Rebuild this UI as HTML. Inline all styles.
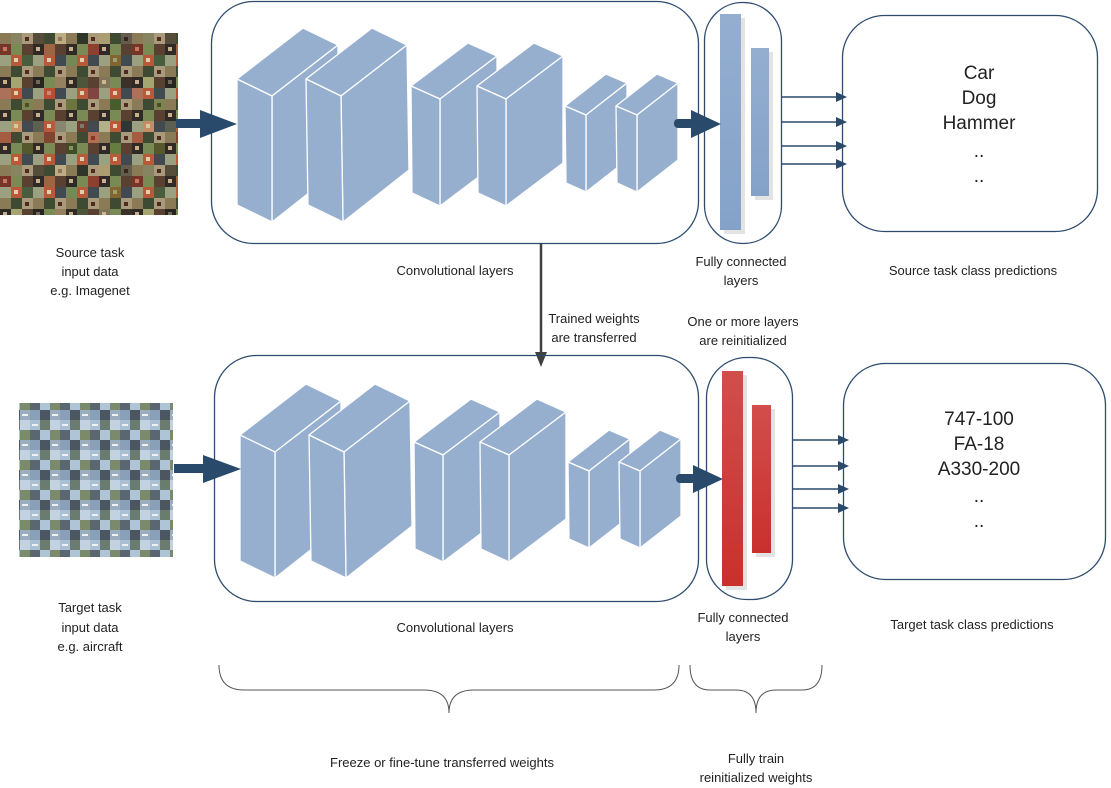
<!DOCTYPE html>
<html><head><meta charset="utf-8"><style>
html,body{margin:0;padding:0;background:#fff;}
svg{display:block;font-family:"Liberation Sans",sans-serif;}
</style></head><body>
<svg width="1111" height="788" viewBox="0 0 1111 788" xmlns="http://www.w3.org/2000/svg">
<defs>
<linearGradient id="red" x1="0" y1="0" x2="0" y2="1"><stop offset="0" stop-color="#d24e4b"/><stop offset="1" stop-color="#c9302d"/></linearGradient>
<linearGradient id="blu" x1="0" y1="0" x2="0" y2="1"><stop offset="0" stop-color="#94aed0"/><stop offset="1" stop-color="#84a2c8"/></linearGradient>
<pattern id="mosA" width="33" height="33" patternUnits="userSpaceOnUse">
<rect width="33" height="33" fill="#6b6a4a"/>
<rect x="0" y="0" width="11" height="11" fill="#8a7a55"/><rect x="11" y="0" width="11" height="11" fill="#3f4a32"/><rect x="22" y="0" width="11" height="11" fill="#a89a7a"/>
<rect x="0" y="11" width="11" height="11" fill="#2f2a25"/><rect x="11" y="11" width="11" height="11" fill="#7a8a55"/><rect x="22" y="11" width="11" height="11" fill="#5a4030"/>
<rect x="0" y="22" width="11" height="11" fill="#9aa080"/><rect x="11" y="22" width="11" height="11" fill="#b85a3a"/><rect x="22" y="22" width="11" height="11" fill="#404a50"/>
<rect x="3" y="14" width="4" height="4" fill="#c9b08a"/><rect x="25" y="4" width="4" height="4" fill="#502a20"/><rect x="14" y="25" width="4" height="4" fill="#e0d0b0"/>
</pattern>
<pattern id="mosA2" width="44" height="44" patternUnits="userSpaceOnUse">
<rect x="0" y="0" width="11" height="11" fill="#c04030" opacity="0.5"/><rect x="22" y="11" width="11" height="11" fill="#50702a" opacity="0.5"/><rect x="33" y="33" width="11" height="11" fill="#202020" opacity="0.5"/><rect x="11" y="33" width="11" height="11" fill="#d0c090" opacity="0.5"/>
</pattern>
<pattern id="mosB" width="30" height="30" patternUnits="userSpaceOnUse">
<rect width="30" height="30" fill="#7f93a8"/>
<rect x="0" y="0" width="10" height="10" fill="#a8bfd4"/><rect x="10" y="0" width="10" height="10" fill="#6a7c70"/><rect x="20" y="0" width="10" height="10" fill="#c3d2e0"/>
<rect x="0" y="10" width="10" height="10" fill="#5a6670"/><rect x="10" y="10" width="10" height="10" fill="#b0c4d8"/><rect x="20" y="10" width="10" height="10" fill="#7a8a6a"/>
<rect x="0" y="20" width="10" height="10" fill="#8aa0b8"/><rect x="10" y="20" width="10" height="10" fill="#4b5660"/><rect x="20" y="20" width="10" height="10" fill="#9aaec0"/>
<rect x="2" y="4" width="6" height="2" fill="#eef0f2"/><rect x="22" y="24" width="6" height="2" fill="#eef0f2"/>
</pattern>
</defs>

<rect x="0" y="33" width="178" height="182" fill="url(#mosA)"/>
<rect x="0" y="33" width="178" height="182" fill="url(#mosA2)"/>
<rect x="19" y="403" width="154" height="154" fill="url(#mosB)"/>

<!-- TOP ROW -->
<rect x="211.5" y="1.5" width="487" height="242" rx="42" fill="none" stroke="#2e4d6e" stroke-width="1.3"/>
<rect x="704.5" y="2.5" width="77" height="241" rx="38" fill="none" stroke="#2e4d6e" stroke-width="1.3"/>
<rect x="842.5" y="15.5" width="255" height="216" rx="42" fill="none" stroke="#2e4d6e" stroke-width="1.3"/>

<g id="cubes" fill="#96afcf" stroke="#fff" stroke-width="1.3" stroke-linejoin="round">
<polygon points="237,79 272,96 338,45 303,28"/><polygon points="272,96 338,45 338,170 272,222"/><polygon points="237,79 272,96 272,222 237,205"/>
<polygon points="306,79 341,96 407,45 372,28"/><polygon points="341,96 407,45 409,170 343,222"/><polygon points="306,79 341,96 343,222 308,205"/>
<polygon points="411,86 440,99 497,56 468,43"/><polygon points="440,99 497,56 497,163 440,206"/><polygon points="411,86 440,99 440,206 412,193"/>
<polygon points="477,86 506,99 563,56 534,43"/><polygon points="506,99 563,56 563,163 506,206"/><polygon points="477,86 506,99 506,206 478,193"/>
<polygon points="565,106 586,115 627,83 606,74"/><polygon points="586,115 627,83 627,160 586,192"/><polygon points="565,106 586,115 586,192 566,183"/>
<polygon points="616,106 637,115 678,83 657,74"/><polygon points="637,115 678,83 678,160 637,192"/><polygon points="616,106 637,115 637,192 617,183"/>
</g>

<rect x="724" y="18" width="21" height="216" fill="#e3e3e3"/>
<rect x="720" y="14" width="21" height="216" fill="url(#blu)"/>
<rect x="755" y="52" width="18" height="148" fill="#e3e3e3"/>
<rect x="751" y="48" width="18" height="148" fill="url(#blu)"/>

<g fill="#2a4a6b" stroke="none">
<rect x="176" y="119" width="30" height="9"/><polygon points="200,110 237,124 200,138"/>
<rect x="674" y="119" width="20" height="9" rx="4"/><polygon points="691,110 721,124 691,138"/>
</g>
<g stroke="#2a4a6b" stroke-width="1.5" fill="#2a4a6b">
<line x1="782" y1="97" x2="838" y2="97"/><polygon points="836,92 847,97 836,102" stroke="none"/>
<line x1="782" y1="122" x2="838" y2="122"/><polygon points="836,117 847,122 836,127" stroke="none"/>
<line x1="782" y1="146" x2="838" y2="146"/><polygon points="836,141 847,146 836,151" stroke="none"/>
<line x1="782" y1="164" x2="838" y2="164"/><polygon points="836,159 847,164 836,169" stroke="none"/>
</g>

<line x1="541" y1="244" x2="541" y2="356" stroke="#404040" stroke-width="2.5"/>
<polygon points="535,352 547,352 541,367" fill="#404040"/>

<!-- BOTTOM ROW -->
<rect x="214.5" y="355.5" width="484" height="246" rx="42" fill="none" stroke="#2e4d6e" stroke-width="1.3"/>
<rect x="706.5" y="357.5" width="86" height="242" rx="40" fill="none" stroke="#2e4d6e" stroke-width="1.3"/>
<rect x="843.5" y="363.5" width="262" height="216" rx="42" fill="none" stroke="#2e4d6e" stroke-width="1.3"/>

<use href="#cubes" transform="translate(3,356)"/>

<rect x="726" y="375" width="21" height="215" fill="#e3e3e3"/>
<rect x="722" y="371" width="21" height="215" fill="url(#red)"/>
<rect x="756" y="409" width="19" height="148" fill="#e3e3e3"/>
<rect x="752" y="405" width="19" height="148" fill="url(#red)"/>

<g fill="#2a4a6b">
<rect x="174" y="464" width="34" height="9"/><polygon points="203,455 241,469 203,483"/>
<rect x="676" y="474" width="20" height="9" rx="4"/><polygon points="693,465 723,479 693,493"/>
</g>
<g stroke="#2a4a6b" stroke-width="1.5" fill="#2a4a6b">
<line x1="793" y1="440" x2="840" y2="440"/><polygon points="838,435 849,440 838,445" stroke="none"/>
<line x1="793" y1="466" x2="840" y2="466"/><polygon points="838,461 849,466 838,471" stroke="none"/>
<line x1="793" y1="489" x2="840" y2="489"/><polygon points="838,484 849,489 838,494" stroke="none"/>
<line x1="793" y1="508" x2="840" y2="508"/><polygon points="838,503 849,508 838,513" stroke="none"/>
</g>

<path d="M219,665 Q219,690 244,690 L424,690 Q449,690 449,713 Q449,690 474,690 L654,690 Q679,690 679,665" fill="none" stroke="#555" stroke-width="1"/>
<path d="M690,665 Q690,690 710,690 L736,690 Q756,690 756,713 Q756,690 776,690 L802,690 Q822,690 822,665" fill="none" stroke="#555" stroke-width="1"/>

<g font-size="13" fill="#222" text-anchor="middle">
<text x="90" y="257">Source task</text><text x="90" y="276">input data</text><text x="90" y="295">e.g. Imagenet</text>
<text x="455" y="275">Convolutional layers</text>
<text x="741" y="266">Fully connected</text><text x="741" y="285">layers</text>
<text x="973" y="275">Source task class predictions</text>
<text x="594" y="323">Trained weights</text><text x="594" y="342">are transferred</text>
<text x="743" y="326">One or more layers</text><text x="743" y="345">are reinitialized</text>
<text x="90" y="612">Target task</text><text x="90" y="632">input data</text><text x="90" y="651">e.g. aircraft</text>
<text x="455" y="632">Convolutional layers</text>
<text x="743" y="622">Fully connected</text><text x="743" y="641">layers</text>
<text x="972" y="629">Target task class predictions</text>
<text x="442" y="767">Freeze or fine-tune transferred weights</text>
<text x="756" y="763">Fully train</text><text x="756" y="782">reinitialized weights</text>
</g>
<g font-size="19" fill="#222" text-anchor="middle">
<text x="979" y="79">Car</text><text x="979" y="104">Dog</text><text x="979" y="129">Hammer</text><text x="979" y="157">..</text><text x="979" y="182">..</text>
<text x="979" y="425">747-100</text><text x="979" y="450">FA-18</text><text x="979" y="475">A330-200</text><text x="979" y="502">..</text><text x="979" y="527">..</text>
</g>
</svg>
</body></html>
